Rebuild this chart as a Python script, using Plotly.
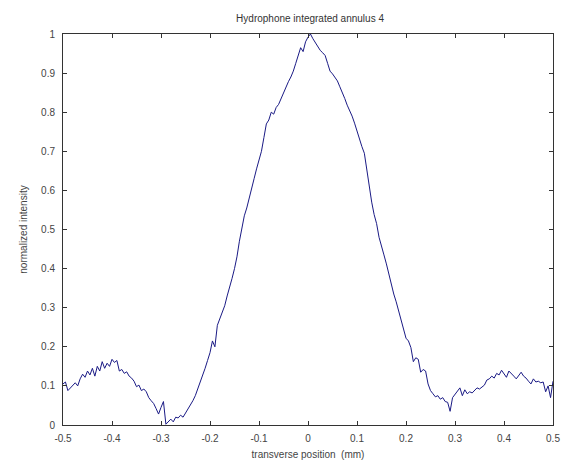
import plotly.graph_objects as go
import numpy as np

# transverse position grid (mm), 0.005 mm step
position = np.round(np.linspace(-0.5, 0.5, 201), 3)

# normalized intensity
intensity = [
    0.105, 0.110, 0.088, 0.095, 0.102, 0.108, 0.100, 0.118, 0.130, 0.122,
    0.138, 0.128, 0.145, 0.125, 0.150, 0.138, 0.162, 0.145, 0.158, 0.150,
    0.168, 0.160, 0.165, 0.138, 0.142, 0.132, 0.136, 0.125, 0.120, 0.112,
    0.098, 0.102, 0.088, 0.092, 0.085, 0.070, 0.062, 0.055, 0.042, 0.028,
    0.045, 0.060, 0.002, 0.010, 0.015, 0.008, 0.020, 0.018, 0.025, 0.020,
    0.030, 0.040, 0.050, 0.062, 0.075, 0.092, 0.110, 0.125, 0.145, 0.165,
    0.185, 0.215, 0.200, 0.255, 0.272, 0.285, 0.305, 0.330, 0.350, 0.375,
    0.400, 0.430, 0.470, 0.500, 0.535, 0.555, 0.578, 0.605, 0.630, 0.655,
    0.675, 0.700, 0.735, 0.770, 0.780, 0.800, 0.795, 0.812, 0.820, 0.835,
    0.850, 0.862, 0.878, 0.890, 0.905, 0.925, 0.945, 0.965, 0.955, 0.980,
    0.992, 1.000, 0.988, 0.978, 0.968, 0.958, 0.952, 0.945, 0.925, 0.905,
    0.898, 0.888, 0.880, 0.865, 0.852, 0.835, 0.818, 0.805, 0.790, 0.772,
    0.750, 0.735, 0.712, 0.695, 0.650, 0.610, 0.570, 0.538, 0.515, 0.480,
    0.460, 0.435, 0.412, 0.385, 0.360, 0.335, 0.315, 0.290, 0.265, 0.240,
    0.222, 0.215, 0.198, 0.162, 0.172, 0.168, 0.135, 0.142, 0.138, 0.105,
    0.088, 0.080, 0.072, 0.075, 0.066, 0.070, 0.060, 0.058, 0.035, 0.070,
    0.078, 0.085, 0.095, 0.075, 0.090, 0.080, 0.085, 0.082, 0.088, 0.095,
    0.092, 0.098, 0.102, 0.115, 0.118, 0.125, 0.120, 0.132, 0.128, 0.140,
    0.132, 0.122, 0.138, 0.130, 0.125, 0.118, 0.128, 0.135, 0.125, 0.120,
    0.112, 0.105, 0.118, 0.110, 0.112, 0.108, 0.110, 0.085, 0.100, 0.070,
    0.112,
]

x_ticks = [-0.5, -0.4, -0.3, -0.2, -0.1, 0, 0.1, 0.2, 0.3, 0.4, 0.5]
x_tick_text = ['-0.5', '-0.4', '-0.3', '-0.2', '-0.1', '0', '0.1', '0.2', '0.3', '0.4', '0.5']
y_ticks = [0, 0.1, 0.2, 0.3, 0.4, 0.5, 0.6, 0.7, 0.8, 0.9, 1]
y_tick_text = ['0', '0.1', '0.2', '0.3', '0.4', '0.5', '0.6', '0.7', '0.8', '0.9', '1']

fig = go.Figure()
fig.add_trace(go.Scatter(x=position, y=intensity, mode='lines',
                         line=dict(color='#1a1a85', width=1), hoverinfo='skip'))

axis_style = dict(showgrid=False, zeroline=False, showline=True, linecolor='#333333',
                  linewidth=1, mirror='ticks', ticks='inside', ticklen=4,
                  tickcolor='#333333', tickfont=dict(size=10, color='#444444'))

fig.update_layout(
    width=571, height=475,
    margin=dict(l=63, r=11, t=34, b=50),
    paper_bgcolor='white', plot_bgcolor='white',
    font=dict(family='Liberation Sans, Arial, sans-serif', size=10, color='#444444'),
    showlegend=False,
    title=dict(text='Hydrophone integrated annulus 4', x=0.543, xanchor='center',
               y=0.962, yanchor='middle', font=dict(size=10, color='#333333')),
)
fig.update_xaxes(range=[-0.5, 0.5], tickvals=x_ticks, ticktext=x_tick_text,
                 ticklabelstandoff=4,
                 title=dict(text='transverse position  (mm)', standoff=7,
                            font=dict(size=10, color='#444444')),
                 **axis_style)
fig.update_yaxes(range=[0, 1], tickvals=y_ticks, ticktext=y_tick_text,
                 ticklabelstandoff=5,
                 title=dict(text='normalized intensity', standoff=11,
                            font=dict(size=10, color='#444444')),
                 **axis_style)

# drop the default body margin so the figure sits at the page corner
fig.write_html("out.html", config={'displayModeBar': False},
               post_script="document.body.style.margin='0';document.body.style.overflow='hidden';")
